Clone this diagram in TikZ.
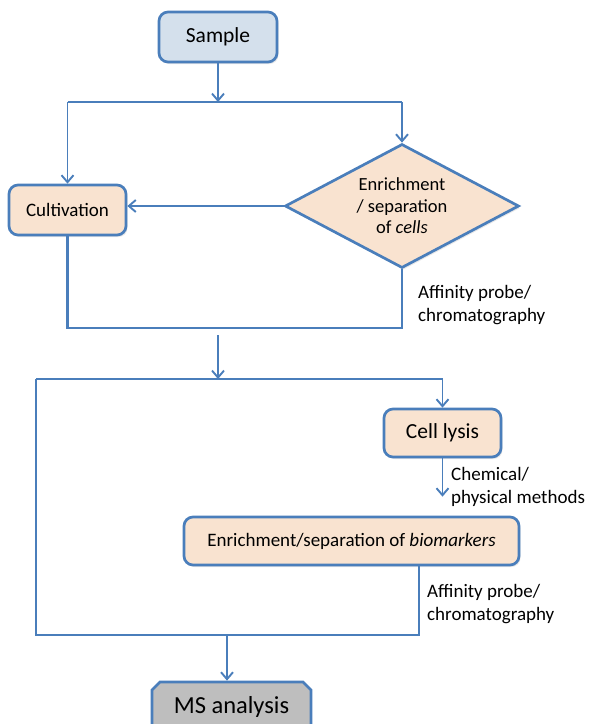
\documentclass[tikz,border=0pt]{standalone}
\usepackage{fontspec}
\setmainfont{Carlito}
\usetikzlibrary{shapes.geometric,shapes.misc,arrows.meta,shadows}

\definecolor{flowblue}{HTML}{4A7EBB}
\definecolor{samplefill}{HTML}{D4E0EC}
\definecolor{stepfill}{HTML}{F9E3D0}
\definecolor{msfill}{HTML}{BEBEBE}
\newcommand{\lblfont}{\fontsize{19}{23}\selectfont}
\newcommand{\bigfont}{\fontsize{21.5}{25}\selectfont}

\begin{document}
\begin{tikzpicture}[x=1pt,y=-1pt,
    shade/.style={drop shadow={opacity=0.18,shadow xshift=1.5pt,shadow yshift=-2pt}},
    box/.style={draw=flowblue,line width=2.7pt,rounded corners=9pt,fill=stepfill,
                inner sep=0pt,shade},
    decision/.style={diamond,draw=flowblue,line width=2.7pt,fill=stepfill,aspect=1.89,
                minimum width=234pt,minimum height=124pt,inner sep=0pt,align=center,
                font=\fontsize{18.5}{21.5}\selectfont,shade},
    msbox/.style={chamfered rectangle,chamfered rectangle xsep=4pt,chamfered rectangle ysep=4pt,
                draw=flowblue,line width=2.7pt,fill=msfill,inner sep=0pt,
                minimum width=159pt,minimum height=64pt,font=\fontsize{24.5}{28}\selectfont},
    note/.style={anchor=west,align=left,inner sep=0pt,font=\lblfont},
    line/.style={draw=flowblue,line width=2.8pt},
    arr/.style={draw=flowblue,line width=1.9pt,-{Straight Barb[length=7pt,width=12pt]}}]
  \useasboundingbox (0,0) rectangle (590,724);

  % boxes
  \node[box,fill=samplefill,minimum width=118pt,minimum height=50pt,font=\bigfont] (sample) at (218,37) {Sample};
  \node[box,minimum width=117pt,minimum height=50pt,font=\lblfont] (cult) at (67.5,210) {Cultivation};
  \node[decision] (cells) at (402,206) {Enrichment\\/ separation\\of \textit{cells}};
  \node[box,minimum width=117pt,minimum height=48pt,font=\bigfont] (lysis) at (442.5,433) {Cell lysis};
  \node[box,minimum width=335pt,minimum height=48pt,font=\lblfont] (bio) at (351.5,541) {Enrichment/separation of \textit{biomarkers}};
  \node[msbox] (ms) at (231.5,714) {\raisebox{19pt}{MS analysis}};

  % labels
  \node[note] (aff1) at (418,305) {Affinity probe/\\chromatography};
  \node[note] (chem) at (451,487) {Chemical/\\physical methods};
  \node[note] (aff2) at (427,604) {Affinity probe/\\chromatography};

  % junctions
  \coordinate (j1) at (218,102);
  \coordinate (m1) at (218,328);
  \coordinate (j3) at (218,379);
  \coordinate (tl) at (36,379);
  \coordinate (bl) at (36,635);
  \coordinate (br) at (419,635);
  \coordinate (m2) at (227,635);

  % upper part
  \draw[arr] (sample) -- (j1);
  \draw[line] (cult |- j1) -- (cells |- j1);
  \draw[arr] (cult |- j1) -- (cult);
  \draw[arr] (cells |- j1) -- (cells);
  \draw[arr] (cells.west) -- (cells.west -| cult.east);
  \draw[line] (cult.south) |- (m1) -| (cells.south);
  \draw[arr] ([yshift=-7pt]m1) -- (j3);

  % lower part
  \draw[line] (tl) -- (lysis |- tl);
  \draw[arr] (lysis |- tl) -- (lysis);
  \draw[arr,shorten >=19pt] (lysis) -- (lysis |- bio.north);
  \draw[line] (tl) -- (bl) -- (br) -- (br |- bio.south);
  \draw[arr] (m2) -- (m2 |- ms.north);
\end{tikzpicture}
\end{document}
